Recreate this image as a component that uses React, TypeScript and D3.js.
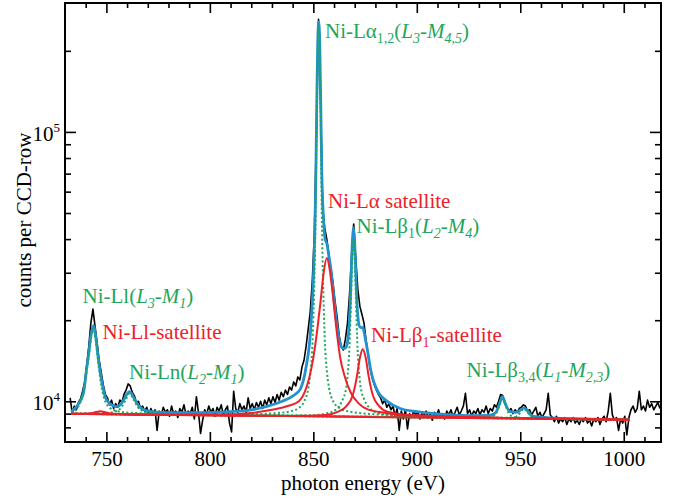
import React, { useRef, useEffect } from "react";
import * as d3 from "d3";

// measured spectrum, 1 eV bins starting at 732.5 eV
const spectrumStart = 732.5;
const spectrumStep = 1;
const spectrumCounts = [
  10300, 9000, 9600, 9300, 9900, 10200, 10900, 11800, 13600, 16000,
  19500, 22000, 19000, 16500, 14200, 12800, 11500, 10600, 10300, 9700,
  10100, 9400, 9800, 9500, 10100, 9900, 10600, 11000, 11600, 11400,
  10800, 10500, 9900, 10000, 9400, 9600, 9200, 9500, 8900, 9400,
  9000, 9300, 7800, 9200, 8900, 9500, 9100, 9300, 8800, 9600,
  9000, 9200, 8700, 9400, 9100, 9700, 8900, 9200, 9000, 9500,
  8600, 10400, 9100, 7600, 8500, 9300, 9000, 9600, 9100, 9400,
  8800, 9500, 9200, 9700, 8900, 9300, 9600, 8300, 7700, 10900,
  9400, 9100, 9800, 9300, 9600, 9100, 10300, 9400, 9800, 9300,
  9900, 9500, 10000, 9400, 10100, 9700, 10300, 9800, 10400, 9900,
  10600, 10100, 10800, 10400, 11000, 10600, 11300, 11000, 11800, 11400,
  12300, 12000, 13400, 14200, 16000, 18500, 21500, 28000, 42000, 100000,
  262000, 130000, 52000, 44000, 40000, 35000, 31000, 27500, 23500, 20500,
  17500, 16000, 15500, 17000, 19500, 25000, 35000, 45500, 34000, 26000,
  22500, 21000, 19500, 16800, 14800, 13200, 12200, 11500, 11000, 10600,
  10300, 9800, 10100, 9500, 9800, 9300, 9600, 8800, 9400, 7800,
  9200, 8600, 9300, 7900, 9000, 8700, 9200, 8900, 9100, 8600,
  9000, 8800, 9200, 8700, 9000, 8500, 9100, 8800, 9300, 8700,
  9000, 8600, 9200, 8900, 9300, 8800, 9100, 9500, 8900, 9200,
  9600, 10700, 9000, 9300, 8800, 9200, 9000, 9400, 8900, 9300,
  9100, 9600, 9000, 9400, 9200, 9700, 9500, 10000, 10600, 10500,
  9800, 9500, 9200, 9400, 9000, 9300, 9100, 9400, 9500, 9700,
  9600, 9200, 9300, 8900, 9200, 9500, 8800, 9100, 8700, 9000,
  9300, 10700, 8900, 8700, 8400, 8800, 8300, 8600, 8400, 8700,
  8200, 8600, 8400, 8700, 8300, 8500, 8200, 8600, 8400, 8700,
  8300, 8500, 8100, 8600, 8400, 8700, 8200, 8600, 8800, 8400,
  9200, 10700, 8900, 8500, 8700, 7800, 8600, 8300, 8800, 7500,
  8700, 9300, 9600, 9100, 9400, 10900, 9300, 9600, 9200, 10100,
  9500, 9800, 9300, 9600, 9900, 9400,
];

// total fit [eV, counts]
const fitTotal: [number, number][] = [
  [733, 9150], [735.6, 9560], [738.9, 10700], [740.5, 13300], [741.5, 15100], [742.5, 17500],
  [743.7, 19100], [744.9, 17300], [745.9, 14800], [746.9, 13000], [748, 11600], [749.4, 10400],
  [751, 9900], [753, 9650], [755, 9560], [757, 9750], [758.8, 10250], [760, 10650], [761.1, 10860],
  [762.3, 10650], [763.5, 10200], [765.5, 9650], [768, 9300], [772, 9150], [780, 9080], [795, 9070],
  [810, 9150], [820, 9300], [828, 9600], [835, 10000], [840, 10450], [843.7, 11100], [846.5, 13400],
  [848.6, 18000], [850.1, 29600], [850.6, 39500], [851.1, 59500], [851.6, 118700], [852.1, 210000],
  [852.6, 256000], [853.1, 213500], [853.6, 125500], [854.1, 69500], [854.6, 53000], [855.1, 45000],
  [855.6, 40300], [856.6, 38300], [857.6, 34200], [858.6, 30500], [859.6, 25700], [861.1, 20000],
  [862.6, 16800], [863.9, 15800], [864.8, 15700], [865.6, 15800], [866.4, 16400], [867.4, 19600],
  [867.9, 23800], [868.4, 31350], [868.9, 39880], [869.4, 44100], [869.9, 40110], [870.4, 31900],
  [870.9, 24790], [871.4, 21180], [872.4, 18920], [873.4, 18750], [873.9, 18850], [874.4, 18240],
  [875.4, 16630], [876.4, 15070], [877.4, 13500], [878.4, 12400], [879.4, 11690], [881.4, 10780],
  [885.4, 10040], [892, 9400], [900, 9150], [910, 8980], [925, 8850], [935, 8860], [938, 9050],
  [940, 9800], [941.4, 10400], [942.8, 9800], [945, 9150], [948, 9100], [950.5, 9330], [951.8, 9450],
  [953.2, 9250], [956, 8800], [965, 8680], [980, 8600], [1003, 8555],
];

// diagram lines (green, dotted)
const llLine: [number, number][] = [
  [733, 9070], [736, 9450], [738, 10200], [740, 12200], [741.5, 14800], [742.7, 17300], [743.7, 18650],
  [744.7, 17200], [745.9, 14300], [747.4, 11600], [749.4, 10000], [751.4, 9500], [755, 9200],
  [762, 9060], [780, 8980], [830, 8860], [900, 8730], [1003, 8540],
];
const lnLine: [number, number][] = [
  [733, 8985], [750, 9050], [755, 9200], [757.5, 9550], [759.5, 10200], [761.2, 10680], [763, 10200],
  [765, 9550], [767.5, 9200], [772, 9040], [790, 8910], [850, 8800], [1003, 8535],
];
const laLine: [number, number][] = [
  [733, 8990], [790, 8950], [815, 8940], [833, 9050], [838, 9150], [843, 9450], [845.6, 10000],
  [847.6, 11200], [848.6, 12800], [849.6, 16500], [850.1, 21500], [850.6, 30000], [851.1, 50000],
  [851.6, 105000], [852.1, 190000], [852.6, 244000], [853.1, 190000], [853.6, 105000], [854.1, 50000],
  [854.6, 30000], [855.1, 21500], [855.6, 16500], [856.6, 12800], [857.6, 11200], [859.6, 10000],
  [862.6, 9450], [867.6, 9150], [880, 8950], [920, 8750], [1003, 8540],
];
const lb1Line: [number, number][] = [
  [733, 8990], [830, 8890], [849.4, 8870], [857.4, 9050], [861.4, 9400], [863.4, 9850], [864.4, 10250],
  [865.4, 10750], [866.4, 12050], [867.4, 15550], [867.9, 19750], [868.4, 27250], [868.9, 35750],
  [869.4, 40000], [869.9, 35750], [870.4, 27250], [870.9, 19750], [871.4, 15550], [872.4, 12050],
  [873.4, 10750], [874.4, 10250], [875.4, 9850], [877.4, 9400], [881.4, 9050], [889.4, 8870],
  [920, 8760], [1003, 8540],
];
const lb3Line: [number, number][] = [
  [733, 8985], [900, 8720], [930, 8680], [936, 8750], [938.5, 9050], [940, 9700], [941.4, 10300],
  [942.8, 9700], [944.3, 9050], [946.8, 8750], [955, 8640], [1003, 8535],
];
const lb4Line: [number, number][] = [
  [733, 8985], [920, 8690], [945, 8650], [948.5, 8800], [950.5, 9200], [951.8, 9380], [953.1, 9200],
  [955.1, 8800], [960, 8620], [1003, 8535],
];

// satellites (red, solid)
const llSatellite: [number, number][] = [
  [733, 8985], [742, 9010], [745, 9120], [747, 9180], [749, 9120], [752, 9010], [760, 8940],
  [800, 8870], [850, 8790], [900, 8705], [1003, 8532],
];
const laSatellite: [number, number][] = [
  [733, 8985], [780, 8920], [805, 8920], [820, 9050], [830, 9300], [838, 9620], [843, 10000],
  [846, 10900], [848, 12200], [850, 14500], [852, 18700], [853.5, 23500], [855, 30000], [856.5, 34000],
  [858, 30500], [859.5, 24500], [861, 19000], [863, 14500], [865, 12500], [868, 10800], [872, 9800],
  [876, 9350], [885, 9050], [900, 8850], [950, 8650], [1003, 8538],
];
const lb1Satellite: [number, number][] = [
  [733, 8985], [840, 8820], [856, 8900], [862, 9150], [866, 9600], [869, 10500], [871, 12300],
  [872.5, 14500], [873.9, 15600], [875.3, 14500], [876.8, 12300], [878.8, 10500], [881.8, 9600],
  [885.8, 9150], [900, 8850], [950, 8660], [1003, 8536],
];

const greenLines = [llLine, lnLine, laLine, lb1Line, lb3Line, lb4Line];
const redLines = [llSatellite, laSatellite, lb1Satellite];

const xMajorTicks = [750, 800, 850, 900, 950, 1000];
const xMinorTicks = [740, 760, 770, 780, 790, 810, 820, 830, 840, 860, 870, 880, 890, 910, 920, 930, 940, 960, 970, 980, 990, 1010];
const yMajorTicks = [1e4, 1e5];
const yMajorExponents = ["4", "5"];
const yMinorTicks = [8000, 9000, 20000, 30000, 40000, 50000, 60000, 70000, 80000, 90000, 200000];

// annotation texts: [text, kind]  kind: "" normal, "sub", "i" italic, "isub" italic subscript
type Seg = [string, string];
const labelLa: Seg[] = [["Ni-Lα", ""], ["1,2", "sub"], ["(", ""], ["L", "i"], ["3", "isub"], ["-", ""], ["M", "i"], ["4,5", "isub"], [")", ""]];
const labelLaSat: Seg[] = [["Ni-Lα satellite", ""]];
const labelLb1: Seg[] = [["Ni-Lβ", ""], ["1", "sub"], ["(", ""], ["L", "i"], ["2", "isub"], ["-", ""], ["M", "i"], ["4", "isub"], [")", ""]];
const labelLb1Sat: Seg[] = [["Ni-Lβ", ""], ["1", "sub"], ["-satellite", ""]];
const labelLb34: Seg[] = [["Ni-Lβ", ""], ["3,4", "sub"], ["(", ""], ["L", "i"], ["1", "isub"], ["-", ""], ["M", "i"], ["2,3", "isub"], [")", ""]];
const labelLl: Seg[] = [["Ni-Ll(", ""], ["L", "i"], ["3", "isub"], ["-", ""], ["M", "i"], ["1", "isub"], [")", ""]];
const labelLlSat: Seg[] = [["Ni-Ll-satellite", ""]];
const labelLn: Seg[] = [["Ni-Ln(", ""], ["L", "i"], ["2", "isub"], ["-", ""], ["M", "i"], ["1", "isub"], [")", ""]];

const serif = '"Liberation Serif", "Times New Roman", Times, serif';
const GREEN = "#1fa65a";
const RED = "#ec2129";
const BLUE = "#2391cd";

const width = 678;
const height = 500;
const frame = { left: 65, right: 661, top: 3, bottom: 442 };

const RichText = ({ x, y, segs, fill }: { x: number; y: number; segs: Seg[]; fill: string }) => {
  let shift = 0;
  return (
    <text x={x} y={y} fill={fill} fontFamily={serif} fontSize={21}>
      {segs.map(([t, kind], i) => {
        const isSub = kind === "sub" || kind === "isub";
        const target = isSub ? 5 : 0;
        const dy = target - shift;
        shift = target;
        return (
          <tspan key={i} dy={dy} fontSize={isSub ? 14 : 21}
            fontStyle={kind === "i" || kind === "isub" ? "italic" : "normal"}>{t}</tspan>
        );
      })}
    </text>
  );
};

const App = () => {
  const axesRef = useRef<SVGGElement>(null);

  const x = d3.scaleLinear().domain([730, 1018]).range([frame.left, frame.right]);
  const y = d3.scaleLog().domain([7060, 301000]).range([frame.bottom, frame.top]);

  const fitLine = d3.line<[number, number]>()
    .x((d) => x(d[0]))
    .y((d) => y(d[1]))
    .curve(d3.curveMonotoneX);
  const rawLine = d3.line<number>()
    .x((d, i) => x(spectrumStart + i * spectrumStep))
    .y((d) => y(d));

  useEffect(() => {
    const g = d3.select(axesRef.current);
    g.selectAll("*").remove();
    const tidy = (sel: any) => {
      sel.select(".domain").remove();
      sel.selectAll("line").attr("stroke", "#000").attr("stroke-width", 1.6);
      sel.selectAll("text").attr("font-family", serif).attr("font-size", 21).attr("fill", "#000");
    };
    const none = () => "";
    // bottom
    g.append("g").attr("transform", `translate(0,${frame.bottom})`)
      .call(d3.axisBottom(x).tickValues(xMajorTicks).tickSize(-10).tickSizeOuter(0).tickPadding(9).tickFormat(d3.format("d")))
      .call(tidy);
    g.append("g").attr("transform", `translate(0,${frame.bottom})`)
      .call(d3.axisBottom(x).tickValues(xMinorTicks).tickSize(-5).tickSizeOuter(0).tickFormat(none))
      .call(tidy);
    // top
    g.append("g").attr("transform", `translate(0,${frame.top})`)
      .call(d3.axisTop(x).tickValues(xMajorTicks).tickSize(-10).tickSizeOuter(0).tickFormat(none))
      .call(tidy);
    g.append("g").attr("transform", `translate(0,${frame.top})`)
      .call(d3.axisTop(x).tickValues(xMinorTicks).tickSize(-5).tickSizeOuter(0).tickFormat(none))
      .call(tidy);
    // left
    g.append("g").attr("transform", `translate(${frame.left},0)`)
      .call(d3.axisLeft(y).tickValues(yMajorTicks).tickSize(-11).tickSizeOuter(0).tickFormat(none))
      .call(tidy);
    g.append("g").attr("transform", `translate(${frame.left},0)`)
      .call(d3.axisLeft(y).tickValues(yMinorTicks).tickSize(-6).tickSizeOuter(0).tickFormat(none))
      .call(tidy);
    // right
    g.append("g").attr("transform", `translate(${frame.right},0)`)
      .call(d3.axisRight(y).tickValues(yMajorTicks).tickSize(-11).tickSizeOuter(0).tickFormat(none))
      .call(tidy);
    g.append("g").attr("transform", `translate(${frame.right},0)`)
      .call(d3.axisRight(y).tickValues(yMinorTicks).tickSize(-6).tickSizeOuter(0).tickFormat(none))
      .call(tidy);
  }, []);

  return (
    <svg width={width} height={height} style={{ position: "absolute", left: 0, top: 0, background: "#fff" }}>
      <defs>
        <clipPath id="plot-area">
          <rect x={frame.left} y={frame.top} width={frame.right - frame.left} height={frame.bottom - frame.top} />
        </clipPath>
      </defs>
      <g clipPath="url(#plot-area)">
        <path d={rawLine(spectrumCounts) || ""} fill="none" stroke="#000" strokeWidth={1.6} strokeLinejoin="round" />
        <path d={fitLine(fitTotal) || ""} fill="none" stroke={BLUE} strokeWidth={2.8} strokeLinejoin="round" />
        {greenLines.map((d, i) => (
          <path key={"g" + i} d={fitLine(d) || ""} fill="none" stroke={GREEN} strokeWidth={2} strokeDasharray="2 2.4" />
        ))}
        {redLines.map((d, i) => (
          <path key={"r" + i} d={fitLine(d) || ""} fill="none" stroke={RED} strokeWidth={2} />
        ))}
      </g>
      <g ref={axesRef} />
      <rect x={frame.left} y={frame.top} width={frame.right - frame.left} height={frame.bottom - frame.top}
        fill="none" stroke="#000" strokeWidth={2} />
      {yMajorTicks.map((v, i) => (
        <text key={v} x={frame.left - 5} y={y(v) + 9} textAnchor="end" fontFamily={serif} fontSize={21} fill="#000">
          10<tspan dy={-9} fontSize={13}>{yMajorExponents[i]}</tspan>
        </text>
      ))}
      <text transform="translate(31,220) rotate(-90)" textAnchor="middle" fontFamily={serif} fontSize={21} fill="#000">
        counts per CCD-row
      </text>
      <text x={363} y={490} textAnchor="middle" fontFamily={serif} fontSize={21} fill="#000">
        photon energy (eV)
      </text>
      <RichText x={325} y={37.5} segs={labelLa} fill={GREEN} />
      <RichText x={328} y={208} segs={labelLaSat} fill={RED} />
      <RichText x={356.5} y={233} segs={labelLb1} fill={GREEN} />
      <RichText x={371} y={341.5} segs={labelLb1Sat} fill={RED} />
      <RichText x={466.5} y={376.5} segs={labelLb34} fill={GREEN} />
      <RichText x={82.5} y={303} segs={labelLl} fill={GREEN} />
      <RichText x={102.5} y={339} segs={labelLlSat} fill={RED} />
      <RichText x={129} y={379} segs={labelLn} fill={GREEN} />
    </svg>
  );
};

export default App;
